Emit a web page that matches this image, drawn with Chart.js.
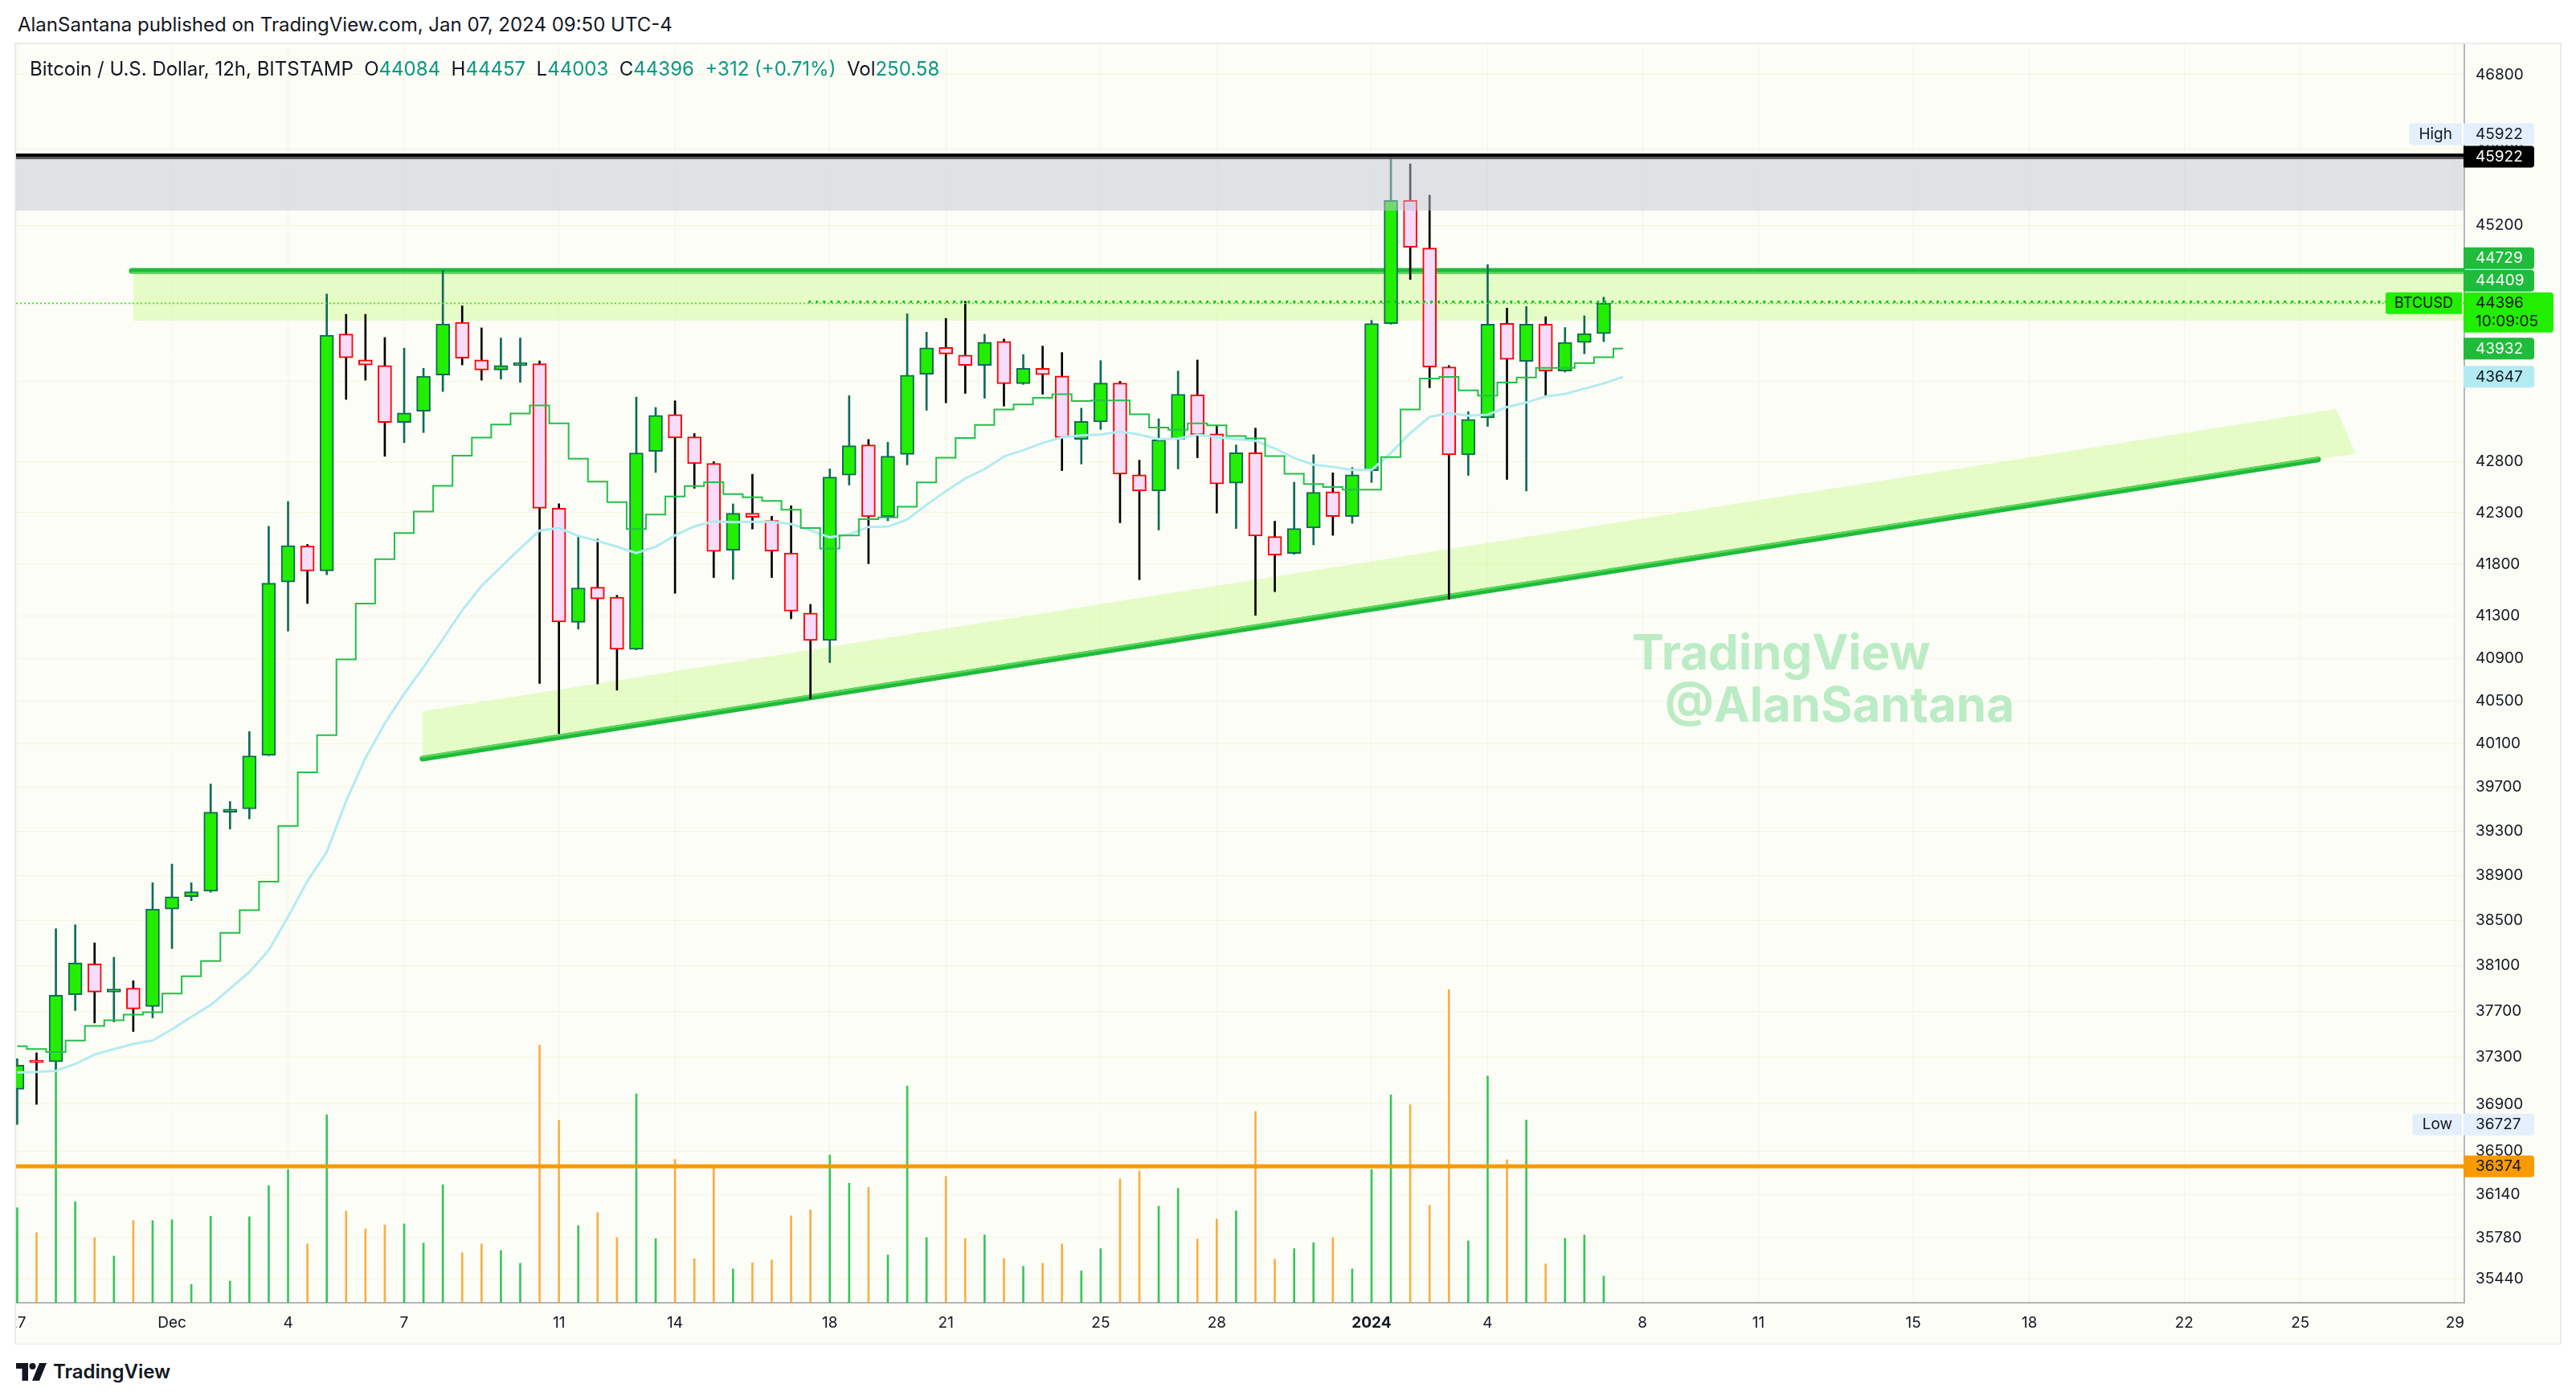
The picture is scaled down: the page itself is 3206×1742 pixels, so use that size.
<!DOCTYPE html>
<html>
<head>
<meta charset="utf-8">
<title>BTCUSD 12h</title>
<script src="https://cdn.jsdelivr.net/npm/chart.js@4.4.1/dist/chart.umd.min.js"></script>
<style>
  html, body { margin: 0; padding: 0; background: #fff; }
  body { width: 3206px; height: 1742px; position: relative; overflow: hidden; font-family: Inter, "Noto Sans", sans-serif; color: #131722; }
  #pub { position: absolute; left: 22px; top: 15px; font-size: 24px; line-height: 32px; }
  #panel { position: absolute; left: 18px; top: 53px; width: 3170px; height: 1620px; border: 2px solid #e9ebf0; box-sizing: border-box; background: #fcfdf6; }
  #wrap { position: absolute; left: 20px; top: 55px; width: 3166px; height: 1617px; }
  #legend { position: absolute; left: 37px; top: 70px; font-size: 24px; line-height: 32px; white-space: pre; }
  #legend .v { color: #089981; }
  #logo { position: absolute; left: 20px; top: 1692px; display: flex; align-items: center; gap: 8px; font-size: 24px; font-weight: 600; }
</style>
</head>
<body>
<div id="pub">AlanSantana published on TradingView.com, Jan 07, 2024 09:50 UTC-4</div>
<div id="panel"></div>
<div id="wrap"><canvas id="chart"></canvas></div>
<div id="legend"></div>
<div id="logo">
  <svg width="38" height="22" viewBox="0 0 38 22"><path d="M0 0H15V22H7.5V7H0Z" fill="#131722"/><circle cx="20.5" cy="4" r="4" fill="#131722"/><path d="M29 0H38L29 22H20Z" fill="#131722"/></svg>
  <span>TradingView</span>
</div>
<script>
// 12h candles, Nov 27 2023 -> Jan 7 2024 (BITSTAMP BTCUSD)
const opens = [
  37026, 37262, 37262, 37844, 38114, 37868, 37902, 37741, 38600, 38710,
  38760, 39473, 39503, 39995, 41627, 41975, 41734, 44080, 43818, 43761,
  43190, 43301, 43664, 44200, 43818, 43716, 43761, 43779, 42343, 41242,
  41578, 41482, 40986, 42901, 43268, 43046, 42783, 41933, 42294, 42223,
  41908, 41330, 41070, 42668, 42966, 42259, 42873, 43672, 43944, 43867,
  43763, 44005, 43577, 43733, 43656, 43022, 43196, 43584, 42671, 42512,
  43023, 43466, 43077, 42589, 42889, 42067, 41903, 42150, 42504, 42262,
  42711, 44187, 45461, 44964, 43746, 42869, 43236, 44190, 43802, 44181,
  43705, 43994, 44084
];
const highs = [
  37289, 37340, 38425, 38460, 38300, 38173, 37966, 38835, 39003, 38835,
  39731, 39570, 40214, 42167, 42409, 41990, 44489, 44281, 44281, 44045,
  43937, 43733, 44734, 44368, 44143, 44040, 44040, 43807, 42386, 42073,
  42041, 41500, 43443, 43339, 43406, 43079, 42800, 42385, 42676, 42265,
  42367, 41413, 42730, 43458, 43020, 42993, 44286, 44099, 44240, 44415,
  44078, 44030, 43871, 43958, 43893, 43332, 43811, 43602, 42815, 43227,
  43705, 43817, 43161, 42966, 43133, 42216, 42598, 42869, 42690, 42742,
  44220, 45922, 45846, 45517, 43760, 43297, 44792, 44345, 44361, 44257,
  44147, 44266, 44457
];
const lows = [
  36727, 36898, 37194, 37706, 37598, 37607, 37524, 37642, 38249, 38674,
  38750, 39320, 39412, 39990, 41158, 41421, 41697, 43420, 43613, 42853,
  42988, 43089, 43499, 43767, 43613, 43624, 43591, 40663, 40195, 41177,
  40659, 40601, 40980, 42694, 41519, 42538, 41670, 41653, 42140, 41670,
  41276, 40520, 40860, 42570, 41804, 42220, 42769, 43311, 43386, 43480,
  43432, 43353, 43570, 43472, 42712, 42777, 43120, 42201, 41650, 42130,
  42729, 42839, 42295, 42145, 41309, 41535, 41895, 41986, 42079, 42195,
  42595, 44180, 44639, 43537, 41462, 42665, 43150, 42625, 42512, 43450,
  43695, 43880, 44003
];
const closes = [
  37233, 37255, 37839, 38124, 37868, 37895, 37720, 38600, 38710, 38755,
  39473, 39500, 39990, 41616, 41980, 41734, 44068, 43840, 43767, 43190,
  43284, 43653, 44183, 43835, 43716, 43761, 43790, 42343, 41245, 41571,
  41465, 40986, 42887, 43260, 43036, 42780, 41922, 42294, 42254, 41926,
  41348, 41070, 42648, 42958, 42259, 42855, 43664, 43940, 43879, 43763,
  43997, 43577, 43733, 43668, 43040, 43200, 43584, 42677, 42512, 43016,
  43472, 43068, 42580, 42889, 42073, 41887, 42145, 42498, 42262, 42670,
  44187, 45461, 44972, 43745, 42869, 43220, 44181, 43824, 44181, 43705,
  43994, 44084, 44396
];
const volumes = [
  893, 658, 2406, 950, 611, 438, 773, 773, 780, 172,
  814, 204, 809, 1101, 1253, 553, 1767, 861, 694, 731,
  741, 561, 1109, 470, 553, 491, 371, 2422, 1715, 726,
  848, 613, 1963, 603, 1347, 415, 1297, 318, 376, 402,
  817, 874, 1389, 1125, 1086, 449, 2038, 613, 1188, 603,
  637, 415, 342, 371, 553, 300, 509, 1164, 1240, 908,
  1075, 598, 788, 864, 1798, 410, 509, 564, 613, 318,
  1253, 1955, 1861, 916, 2944, 582, 2132, 1344, 1717, 365,
  606, 637, 250.58
];
// indicator lines (one more point than candles)
const greenMA = [
  37397, 37373, 37347, 37446, 37573, 37622, 37671, 37691, 37854, 38006,
  38139, 38388, 38590, 38845, 39347, 39837, 40182, 40891, 41420, 41848,
  42100, 42310, 42563, 42860, 43039, 43168, 43280, 43360, 43180, 42830,
  42604, 42402, 42140, 42280, 42457, 42560, 42598, 42482, 42450, 42415,
  42327, 42149, 41950, 42078, 42235, 42253, 42358, 42595, 42840, 43034,
  43165, 43320, 43370, 43435, 43472, 43404, 43410, 43410, 43271, 43138,
  43116, 43180, 43160, 43055, 43030, 42855, 42680, 42580, 42550, 42524,
  42524, 42846, 43320, 43630, 43645, 43510, 43458, 43590, 43640, 43737,
  43737, 43786, 43845, 43932
];
const blueMA = [
  37170, 37175, 37185, 37243, 37325, 37373, 37416, 37446, 37543, 37651,
  37754, 37897, 38043, 38234, 38532, 38850, 39112, 39575, 39970, 40292,
  40567, 40817, 41082, 41356, 41590, 41772, 41952, 42125, 42149, 42073,
  42024, 41968, 41906, 41968, 42078, 42165, 42214, 42207, 42211, 42211,
  42189, 42127, 42059, 42087, 42160, 42163, 42233, 42376, 42510, 42634,
  42726, 42850, 42914, 42986, 43040, 43060, 43068, 43099, 43068, 43023,
  43029, 43068, 43043, 43023, 43007, 42931, 42837, 42770, 42749, 42719,
  42719, 42886, 43083, 43245, 43282, 43257, 43267, 43343, 43389, 43450,
  43475, 43528, 43580, 43647
];
// time axis: bar index of each day label
const dayIdx  = [0, 8, 14, 20, 28, 34, 42, 48, 56, 62, 70, 76, 84, 90, 98, 104, 112, 118, 126];
const dayText = ['27', 'Dec', '4', '7', '11', '14', '18', '21', '25', '28', '2024', '4', '8', '11', '15', '18', '22', '25', '29'];
const priceTicks = [46800, 46000, 45200, 44400, 43600, 42800, 42300, 41800, 41300, 40900, 40500, 40100,
  39700, 39300, 38900, 38500, 38100, 37700, 37300, 36900, 36500, 36140, 35780, 35440];

// drawings (bar index, price)
const resistance = { price: 44729, bandLow: 44217, from: 5.92 };
const supportLine = [[20.95, 39964], [118.92, 42822]];
const supportBand = [[20.95, 39964], [20.95, 40403], [119.86, 43323], [120.86, 42881]];
const highZoneBottom = 45355;
const orangeLevel = 36374;
const rayLevel = { price: 44409, from: 40.9 };

const last = closes.length - 1;
const isUp = closes.map((c, i) => c >= opens[i]);

// legend line
(function () {
  const chg = closes[last] - closes[last - 1];
  const pct = chg / closes[last - 1] * 100;
  const s = (chg >= 0 ? '+' : '') ;
  document.getElementById('legend').innerHTML =
    'Bitcoin / U.S. Dollar, 12h, BITSTAMP  O<span class="v">' + opens[last] + '</span>  H<span class="v">' + highs[last] +
    '</span>  L<span class="v">' + lows[last] + '</span>  C<span class="v">' + closes[last] + '</span>  <span class="v">' +
    s + chg + ' (' + s + pct.toFixed(2) + '%)</span>  Vol<span class="v">' + volumes[last].toFixed(2) + '</span>';
})();

const drawings = {
  id: 'drawings',
  beforeDraw(chart) {
    const ctx = chart.ctx;
    ctx.save();
    ctx.fillStyle = '#fcfdf6';
    ctx.fillRect(0, 0, chart.width, chart.height);
    ctx.restore();
  },
  beforeDatasetsDraw(chart) {
    const { ctx, chartArea: a, scales: { x, y } } = chart;
    ctx.save();
    ctx.beginPath();
    ctx.rect(a.left, a.top, a.right - a.left, a.bottom - a.top);
    ctx.clip();

    // watermark
    ctx.fillStyle = '#bbecc5';
    ctx.font = 'bold 60px Inter';
    ctx.textBaseline = 'alphabetic';
    ctx.fillText('TradingView', 2011, 778);
    ctx.fillText('@AlanSantana', 2052, 843);

    // resistance zone
    const rx = x.getPixelForValue(resistance.from);
    const ry = y.getPixelForValue(resistance.price);
    ctx.fillStyle = 'rgba(206,251,152,0.5)';
    ctx.fillRect(rx + 2, ry, a.right - rx, y.getPixelForValue(resistance.bandLow) - ry);
    ctx.lineCap = 'round';
    ctx.strokeStyle = '#1fbb3a';
    ctx.lineWidth = 7;
    ctx.beginPath(); ctx.moveTo(rx, ry); ctx.lineTo(a.right + 10, ry); ctx.stroke();
    ctx.strokeStyle = '#5ad65a';
    ctx.lineWidth = 2.5;
    ctx.beginPath(); ctx.moveTo(rx, ry + 2.5); ctx.lineTo(a.right + 10, ry + 2.5); ctx.stroke();

    // support channel
    ctx.fillStyle = 'rgba(206,251,152,0.5)';
    ctx.beginPath();
    supportBand.forEach((p, i) => {
      const px = x.getPixelForValue(p[0]), py = y.getPixelForValue(p[1]);
      if (i === 0) ctx.moveTo(px, py); else ctx.lineTo(px, py);
    });
    ctx.closePath();
    ctx.fill();
    const p0 = supportLine[0], p1 = supportLine[1];
    const x0 = x.getPixelForValue(p0[0]), y0 = y.getPixelForValue(p0[1]);
    const x1 = x.getPixelForValue(p1[0]), y1 = y.getPixelForValue(p1[1]);
    ctx.strokeStyle = '#1fbb3a';
    ctx.lineWidth = 7;
    ctx.beginPath(); ctx.moveTo(x0, y0); ctx.lineTo(x1, y1); ctx.stroke();
    ctx.strokeStyle = '#5ad65a';
    ctx.lineWidth = 2.5;
    ctx.beginPath(); ctx.moveTo(x0, y0 - 2.2); ctx.lineTo(x1, y1 - 2.2); ctx.stroke();
    ctx.restore();
  },
  afterDatasetsDraw(chart) {
    const { ctx, chartArea: a, scales: { x, y } } = chart;
    const hi = Math.max(...highs);
    ctx.save();
    ctx.beginPath();
    ctx.rect(a.left, a.top, a.right - a.left, a.bottom - a.top);
    ctx.clip();

    // high zone
    const yh = y.getPixelForValue(hi);
    ctx.fillStyle = 'rgba(196,198,212,0.5)';
    ctx.fillRect(a.left, yh, a.right - a.left, y.getPixelForValue(highZoneBottom) - yh);
    ctx.fillStyle = '#000';
    ctx.fillRect(a.left, yh - 4, a.right - a.left, 4.5);
    ctx.fillStyle = '#555';
    ctx.fillRect(a.left, yh + 0.5, a.right - a.left, 2.5);

    // orange level
    ctx.fillStyle = '#f89a00';
    const yo = y.getPixelForValue(orangeLevel);
    ctx.fillRect(a.left, yo - 2.5, a.right - a.left, 5);

    // horizontal ray
    ctx.strokeStyle = '#1fbb3a';
    ctx.lineWidth = 3;
    ctx.setLineDash([3, 6]);
    const yr = y.getPixelForValue(rayLevel.price);
    ctx.beginPath(); ctx.moveTo(x.getPixelForValue(rayLevel.from), yr); ctx.lineTo(a.right, yr); ctx.stroke();

    // last price line
    ctx.strokeStyle = '#22ee00';
    ctx.lineWidth = 1.5;
    ctx.setLineDash([2, 3]);
    const yc = Math.round(y.getPixelForValue(closes[last])) + 0.5;
    ctx.beginPath(); ctx.moveTo(a.left, yc); ctx.lineTo(a.right, yc); ctx.stroke();
    ctx.restore();
  },
  afterDraw(chart) {
    const { ctx, chartArea: a, scales: { y } } = chart;
    const hi = Math.max(...highs), lo = Math.min(...lows);
    const labels = [
      { v: hi, bg: '#000000', fg: '#ffffff', fixed: true },
      { v: closes[last], bg: '#22ee00', fg: '#131722', fixed: true, sub: '10:09:05', tag: 'BTCUSD' },
      { v: rayLevel.price, bg: '#1fbb3a', fg: '#ffffff' },
      { v: resistance.price, bg: '#1fbb3a', fg: '#ffffff' },
      { v: hi, bg: '#e3effd', fg: '#131722', tag: 'High' },
      { v: greenMA[greenMA.length - 1], bg: '#1fbb3a', fg: '#ffffff' },
      { v: blueMA[blueMA.length - 1], bg: '#b2ebf2', fg: '#131722' },
      { v: lo, bg: '#e3effd', fg: '#131722', tag: 'Low' },
      { v: orangeLevel, bg: '#f89a00', fg: '#131722' }
    ];
    const H = 27;
    const placed = [];
    ctx.save();
    ctx.textBaseline = 'middle';
    labels.forEach(L => {
      const h = L.sub ? 50 : H;
      let top = y.getPixelForValue(L.v) - H / 2;
      if (!L.fixed) {
        let moved = true;
        while (moved) {
          moved = false;
          for (const p of placed) {
            if (top < p.top + p.h && top + h > p.top) { top = p.top - h - 1; moved = true; }
          }
        }
      }
      placed.push({ top, h });
      const w = L.sub ? 112 : 88;
      ctx.fillStyle = L.bg;
      ctx.beginPath(); ctx.roundRect(a.right - 1, top, w, h, [0, 4, 4, 0]); ctx.fill();
      ctx.fillStyle = L.fg;
      ctx.font = '19px Inter';
      ctx.textAlign = 'left';
      ctx.fillText(String(Math.round(L.v)), a.right + 14, top + H / 2 + 0.5);
      if (L.sub) ctx.fillText(L.sub, a.right + 14, top + 37);
      if (L.tag) {
        ctx.font = (L.sub ? '18px' : '19px') + ' Inter';
        const tw = ctx.measureText(L.tag).width + (L.sub ? 22 : 24);
        ctx.fillStyle = L.bg;
        ctx.beginPath(); ctx.roundRect(a.right - 3 - tw, top, tw, H, [3, 0, 0, 3]); ctx.fill();
        ctx.fillStyle = L.fg;
        ctx.textAlign = 'center';
        ctx.fillText(L.tag, a.right - 3 - tw / 2, top + H / 2 + 0.5);
      }
    });
    ctx.restore();
  }
};

function build() {
  Chart.defaults.font.family = 'Inter';
  Chart.defaults.color = '#131722';
  const gridColor = 'rgba(238,226,160,0.28)';
  new Chart(document.getElementById('chart'), {
    type: 'bar',
    data: {
      datasets: [
        {
          type: 'line', label: 'MA fast', order: 1, yAxisID: 'y',
          data: greenMA.map((v, i) => ({ x: i, y: v })),
          stepped: 'middle', borderColor: '#22c04a', borderWidth: 2, pointRadius: 0
        },
        {
          type: 'line', label: 'MA slow', order: 2, yAxisID: 'y',
          data: blueMA.map((v, i) => ({ x: i, y: v })),
          borderColor: '#b2ebf2', borderWidth: 3, pointRadius: 0, tension: 0
        },
        {
          label: 'body', order: 4, yAxisID: 'y', grouped: false,
          data: opens.map((o, i) => ({ x: i, y: [o, closes[i]] })),
          backgroundColor: isUp.map(u => u ? '#22ee00' : '#f8dcfb'),
          borderColor: isUp.map(u => u ? '#0f6b55' : '#ff0000'),
          borderWidth: 2, borderSkipped: false, barThickness: 17, minBarLength: 3
        },
        {
          label: 'wick', order: 5, yAxisID: 'y', grouped: false,
          data: lows.map((l, i) => ({ x: i, y: [l, highs[i]] })),
          backgroundColor: isUp.map(u => u ? '#0f6b55' : '#000000'),
          borderWidth: 0, barThickness: 2
        },
        {
          label: 'Volume', order: 10, yAxisID: 'yv', grouped: false,
          data: volumes.map((v, i) => ({ x: i, y: v })),
          backgroundColor: isUp.map(u => u ? 'rgba(34,192,74,0.9)' : 'rgba(248,165,50,0.9)'),
          borderWidth: 0, barThickness: 2
        }
      ]
    },
    options: {
      responsive: true,
      maintainAspectRatio: false,
      animation: false,
      events: [],
      layout: { padding: 0 },
      plugins: { legend: { display: false }, tooltip: { enabled: false } },
      scales: {
        x: {
          type: 'linear', min: -0.058, max: 126.48, offset: false, bounds: 'data',
          grid: { color: gridColor, drawTicks: false, offset: false },
          border: { color: '#b2b5be', width: 2 },
          ticks: {
            autoSkip: false, maxRotation: 0, padding: 14,
            callback: v => dayText[dayIdx.indexOf(v)],
            font: c => ({ family: 'Inter', size: 19, weight: (c.tick && c.tick.label === '2024') ? '700' : '400' })
          },
          afterBuildTicks: s => { s.ticks = dayIdx.map(v => ({ value: v })); },
          afterFit: s => { s.height = 51; s.paddingLeft = 0; s.paddingRight = 0; }
        },
        y: {
          type: 'logarithmic', position: 'right', min: 35246, max: 47131, bounds: 'data',
          grid: { color: gridColor, drawTicks: false },
          border: { color: '#b2b5be', width: 2 },
          ticks: { autoSkip: false, padding: 14, crossAlign: 'near', font: { size: 19 }, callback: v => String(v) },
          afterBuildTicks: s => { s.ticks = priceTicks.map(v => ({ value: v })); },
          afterFit: s => { s.width = 119; s.paddingTop = 0; s.paddingBottom = 0; }
        },
        yv: {
          type: 'linear', display: false, min: 0, max: 11830
        }
      }
    },
    plugins: [drawings]
  });
}

document.fonts.load('19px Inter').then(build, build);
</script>
</body>
</html>
